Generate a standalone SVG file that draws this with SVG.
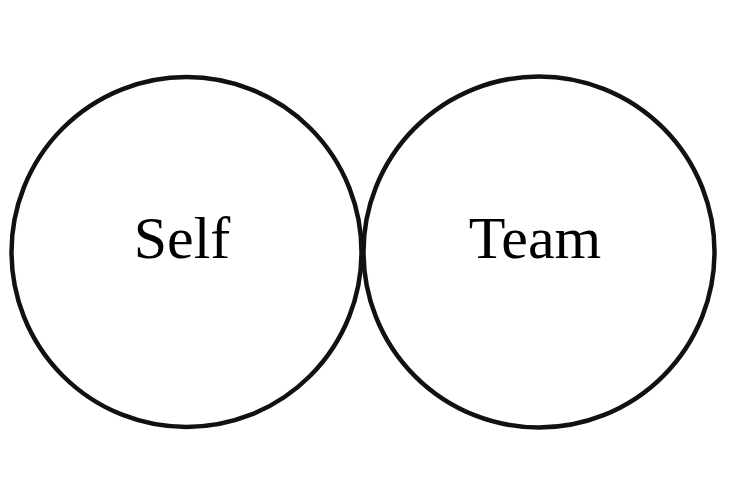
<svg xmlns="http://www.w3.org/2000/svg" width="736" height="484" viewBox="0 0 736 484">
<style>
.c{fill:none;stroke:#111;stroke-width:4.5}
.t{font-family:"Liberation Serif","Times New Roman",serif;font-size:60px;fill:#000;text-anchor:middle}
</style>
<rect width="736" height="484" fill="#fff"/>
<g id="self"><circle class="c" cx="186.5" cy="252" r="175"/><text class="t" x="182" y="258">Self</text></g>
<g id="team"><circle class="c" cx="539" cy="252" r="175.5"/><text class="t" x="535" y="258">Team</text></g>
<g id="connectors"/>
</svg>
